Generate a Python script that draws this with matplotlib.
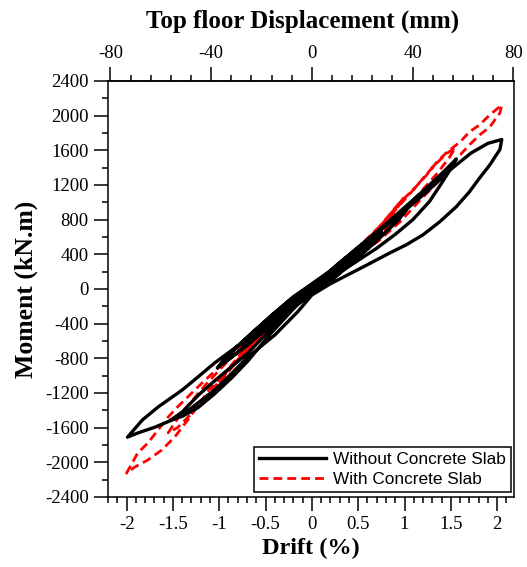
import matplotlib
matplotlib.use("Agg")
import matplotlib.pyplot as plt
import matplotlib.ticker as ticker
from matplotlib.lines import Line2D

plt.rcParams['axes.unicode_minus'] = False

# drift (%) and moment (kN.m), without slab
drift_wo = [0, 0.12, 0.25, 0.14, 0, -0.12, -0.25, -0.14, 0,
            0.18, 0.37, 0.22, 0, -0.18, -0.37, -0.22, 0,
            0.12, 0.28, 0.42, 0.52, 0.44, 0.28, 0.12, 0, -0.12, -0.28, -0.42, -0.52, -0.44, -0.28, -0.12, 0,
            0.2, 0.45, 0.75, 0.6, 0.35, 0.1, 0, -0.2, -0.45, -0.75, -0.6, -0.35, -0.1, 0,
            0.2, 0.45, 0.7, 0.88, 1.02, 0.92, 0.72, 0.5, 0.25, 0, -0.2, -0.45, -0.7, -0.88, -1.02, -0.92, -0.72, -0.5, -0.25, 0,
            0.25, 0.5, 0.75, 1.0, 0.88, 0.66, 0.42, 0.2, 0, -0.25, -0.5, -0.75, -1.0, -0.88, -0.66, -0.42, -0.2, 0,
            0.2, 0.5, 0.8, 1.0, 1.2, 1.4, 1.56, 1.5, 1.4, 1.27, 1.09, 0.9, 0.7, 0.5, 0.3, 0.1, 0,
            -0.2, -0.45, -0.69, -0.86, -1.05, -1.23, -1.4, -1.52, -1.4, -1.22, -1.05, -0.86, -0.69, -0.45, -0.2, 0,
            0.25, 0.5, 0.75, 1.0, 1.25, 1.5, 1.72, 1.9, 2.05, 2.03, 1.92, 1.81, 1.7, 1.56, 1.38, 1.2, 1.02, 0.84, 0.6, 0.4, 0.2, 0,
            -0.15, -0.4, -0.69, -0.86, -1.05, -1.23, -1.37, -1.51, -1.69, -1.88, -1.99,
            -1.83, -1.66, -1.4, -1.23, -1.05, -0.86, -0.69, -0.4, -0.18, 0]
moment_wo = [0, 110, 230, 110, -20, -110, -230, -110, 20,
             170, 340, 180, -30, -170, -340, -180, 30,
             120, 270, 380, 450, 350, 190, 60, -30, -120, -270, -380, -450, -350, -190, -60, 30,
             190, 410, 660, 500, 260, 40, -40, -200, -420, -670, -510, -270, -50, 40,
             200, 420, 650, 800, 910, 780, 580, 370, 140, -40, -200, -420, -650, -800, -910, -780, -580, -370, -140, 40,
             250, 470, 690, 890, 740, 520, 290, 90, -60, -250, -470, -690, -890, -740, -520, -290, -90, 60,
             210, 480, 750, 940, 1130, 1330, 1500, 1390, 1220, 1010, 800, 630, 470, 330, 190, 50, -20,
             -230, -520, -830, -1020, -1210, -1370, -1470, -1510, -1420, -1220, -1060, -890, -740, -470, -210, -30,
             260, 480, 690, 900, 1130, 1380, 1570, 1680, 1725, 1610, 1430, 1280, 1120, 950, 775, 625, 510, 415, 280, 170, 60, -70,
             -260, -531, -785, -969, -1166, -1316, -1431, -1512, -1593, -1662, -1710,
             -1512, -1362, -1166, -1016, -854, -704, -565, -323, -162, -40]

# with concrete slab
drift_w = [0, 0.18, 0.37, 0.24, 0, -0.18, -0.37, -0.24, 0,
           0.15, 0.32, 0.5, 0.4, 0.2, 0, -0.15, -0.32, -0.5, -0.4, -0.2, 0,
           0.25, 0.5, 0.75, 0.6, 0.35, 0, -0.25, -0.5, -0.75, -0.6, -0.35, 0,
           0.25, 0.5, 0.75, 1.0, 0.9, 0.7, 0.45, 0.2, 0, -0.25, -0.5, -0.75, -1.0, -0.9, -0.7, -0.45, -0.2, 0,
           0.3, 0.6, 0.85, 1.1, 1.3, 1.45, 1.55, 1.48, 1.35, 1.15, 0.95, 0.72, 0.5, 0.25, 0,
           -0.3, -0.6, -0.85, -1.1, -1.3, -1.45, -1.55, -1.48, -1.35, -1.15, -0.95, -0.72, -0.5, -0.25, 0,
           0.3, 0.59, 0.81, 0.95, 1.09, 1.24, 1.35, 1.46, 1.6, 1.7, 1.81, 1.92, 2.05,
           2.03, 1.92, 1.81, 1.7, 1.6, 1.38, 1.17, 0.95, 0.73, 0.5, 0.25, 0,
           -0.2, -0.5, -0.8, -1.1, -1.34, -1.48, -1.62, -1.77, -1.91, -2.0,
           -1.88, -1.77, -1.66, -1.55, -1.45, -1.2, -0.95, -0.7, -0.4, -0.2, 0]
moment_w = [0, 170, 350, 200, -20, -170, -350, -200, 20,
            140, 300, 460, 330, 140, -30, -150, -310, -470, -340, -150, 20,
            240, 480, 740, 550, 290, -30, -240, -480, -750, -560, -300, 30,
            230, 460, 740, 1060, 900, 650, 390, 150, -40, -250, -480, -760, -1080, -920, -660, -400, -160, 30,
            270, 540, 850, 1150, 1400, 1560, 1630, 1510, 1330, 1090, 850, 600, 400, 180, -50,
            -290, -570, -880, -1190, -1440, -1600, -1660, -1540, -1360, -1110, -880, -620, -410, -190, 40,
            260, 531, 820, 1000, 1140, 1316, 1466, 1581, 1696, 1812, 1893, 2008, 2123,
            2031, 1869, 1777, 1662, 1546, 1258, 1027, 773, 565, 370, 170, -40,
            -200, -480, -820, -1150, -1512, -1708, -1858, -1973, -2054, -2125,
            -1893, -1777, -1627, -1477, -1362, -1100, -850, -600, -330, -150, 30]

mm_per_drift = 36.8
mm_ticks = [-80, -40, 0, 40, 80]
serif = 'Liberation Serif'
dash = (0, (3.2, 1.8))

fig = plt.figure(figsize=(5.27, 5.67), dpi=100)
ax = fig.add_axes([0.205, 0.1235, 0.770, 0.7337])

ax.plot(drift_w, moment_w, color='red', lw=2.0, ls=dash, zorder=2)
ax.plot(drift_wo, moment_wo, color='black', lw=2.4, solid_joinstyle='round', zorder=3)

ax.set_xlim(-2.2, 2.18)
ax.set_ylim(-2400, 2400)
ax.xaxis.set_major_locator(ticker.MultipleLocator(0.5))
ax.xaxis.set_minor_locator(ticker.MultipleLocator(0.1))
ax.yaxis.set_major_locator(ticker.MultipleLocator(400))
ax.yaxis.set_minor_locator(ticker.MultipleLocator(200))
ax.xaxis.set_major_formatter(ticker.FuncFormatter(lambda v, p: '%g' % round(v, 2)))
ax.tick_params(which='both', direction='out', width=1.1, top=False, right=False, labelsize=13.5)
ax.tick_params(which='major', length=10, pad=4)
ax.tick_params(which='minor', length=4.5)
for lab in ax.get_xticklabels() + ax.get_yticklabels():
    lab.set_family(serif)
for s in ax.spines.values():
    s.set_linewidth(1.1)

sec = ax.secondary_xaxis('top', functions=(lambda d: d * mm_per_drift, lambda m: m / mm_per_drift))
sec.xaxis.set_major_locator(ticker.FixedLocator(mm_ticks))
sec.xaxis.set_minor_locator(ticker.FixedLocator(range(-80, 81, 8)))
sec.tick_params(which='both', direction='out', width=1.1, labelsize=13.5)
sec.tick_params(which='major', length=10, pad=4)
sec.tick_params(which='minor', length=4.5)
for lab in sec.get_xticklabels():
    lab.set_family(serif)
sec.spines['top'].set_linewidth(1.1)

fig.text(0.575, 0.962, 'Top floor Displacement (mm)', ha='center', va='center',
         family=serif, fontweight='bold', fontsize=18)
ax.set_xlabel('Drift (%)', family=serif, fontweight='bold', fontsize=17.5, labelpad=3)
ax.set_ylabel('Moment (kN.m)', family=serif, fontweight='bold', fontsize=18.5, labelpad=5)

handles = [Line2D([], [], color='black', lw=2.4),
           Line2D([], [], color='red', lw=2.0, ls=dash)]
leg = ax.legend(handles, ['Without Concrete Slab', 'With Concrete Slab'],
                loc='lower right', bbox_to_anchor=(0.993, 0.012), borderaxespad=0,
                prop={'family': 'Liberation Sans', 'size': 12.4}, fancybox=False,
                edgecolor='black', framealpha=1, handlelength=3.9, handletextpad=0.4,
                borderpad=0.3, labelspacing=0.25)
leg.get_frame().set_linewidth(1.1)

fig.savefig('out.png', dpi=100)
